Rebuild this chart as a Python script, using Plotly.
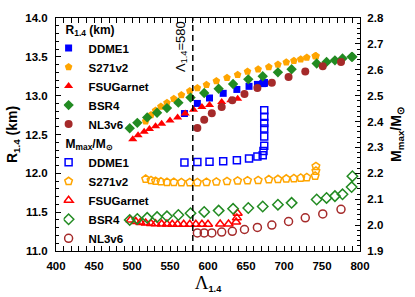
import plotly.graph_objects as go

# ---------------- data ----------------
LAMBDA_CUT = 580

lam_ddme1 = [569, 586, 602, 620, 638, 654, 665, 672, 673, 674, 674, 674, 674, 674, 674]
R_ddme1 = [12.77, 12.90, 12.97, 13.03, 13.08, 13.12, 13.145, 13.155, 13.16, 13.16, 13.165, 13.165, 13.17, 13.17, 13.17]
M_ddme1 = [2.242, 2.244, 2.245, 2.247, 2.251, 2.257, 2.265, 2.270, 2.286, 2.307, 2.342, 2.373, 2.394, 2.419, 2.444]

lam_s271 = [518, 525, 531, 538, 546, 555, 565, 576, 586, 598, 611, 625, 639, 652, 666, 680,
            692, 703, 713, 722, 730, 741, 742, 742]
R_s271 = [12.67, 12.75, 12.81, 12.86, 12.91, 12.96, 13.01, 13.06, 13.10, 13.14, 13.19, 13.23,
          13.27, 13.31, 13.34, 13.37, 13.40, 13.43, 13.45, 13.47, 13.49, 13.51, 13.51, 13.51]
M_s271 = [2.178, 2.173, 2.170, 2.168, 2.166, 2.166, 2.165, 2.165, 2.165, 2.166, 2.167, 2.169,
          2.171, 2.172, 2.173, 2.176, 2.177, 2.179, 2.180, 2.182, 2.184, 2.190, 2.209, 2.227]

lam_fsu_R = [501, 508, 516, 523, 531, 539, 550, 560, 570, 581, 592, 602, 618, 630, 639]
R_fsu = [12.44, 12.49, 12.535, 12.57, 12.605, 12.64, 12.68, 12.72, 12.77, 12.82, 12.855,
         12.88, 12.92, 12.94, 12.96]
lam_fsu_M = [498, 505, 511, 518, 525, 531, 539, 546, 553, 560, 568, 576, 584, 592, 600,
             616, 627, 637, 638, 639]
M_fsu = [2.020, 2.014, 2.010, 2.008, 2.006, 2.005, 2.004, 2.004, 2.003, 2.003, 2.003, 2.003,
         2.003, 2.003, 2.003, 2.004, 2.004, 2.012, 2.028, 2.046]

lam_bsr4 = [497, 507, 520, 533, 546, 561, 577, 595, 614, 633, 653, 672, 692, 710, 743, 756,
            767, 777, 789, 790]
R_bsr4 = [12.58, 12.65, 12.72, 12.78, 12.84, 12.91, 12.975, 13.035, 13.09, 13.15, 13.21, 13.25,
          13.30, 13.34, 13.415, 13.435, 13.455, 13.48, 13.50, 13.50]
M_bsr4 = [2.020, 2.024, 2.028, 2.031, 2.034, 2.039, 2.046, 2.051, 2.056, 2.063, 2.066, 2.072,
          2.079, 2.086, 2.099, 2.105, 2.112, 2.119, 2.147, 2.189]

lam_nl3 = [586, 595, 605, 618, 632, 648, 665, 684, 706, 728, 751, 775]
R_nl3 = [12.585, 12.69, 12.775, 12.855, 12.94, 13.02, 13.10, 13.165, 13.24, 13.31, 13.38, 13.435]
M_nl3 = [1.970, 1.970, 1.970, 1.973, 1.976, 1.983, 1.991, 2.000, 2.014, 2.028, 2.043, 2.061]

# ---------------- styles ----------------
FONT = "Liberation Sans, Arial, Helvetica, sans-serif"
series = [
    ("DDME1", lam_ddme1, R_ddme1, lam_ddme1, M_ddme1, "#0000ff", "square", 7),
    ("S271v2", lam_s271, R_s271, lam_s271, M_s271, "#ffa500", "pentagon", 8),
    ("FSUGarnet", lam_fsu_R, R_fsu, lam_fsu_M, M_fsu, "#ff0000", "triangle-up", 8),
    ("BSR4", lam_bsr4, R_bsr4, lam_bsr4, M_bsr4, "#228b22", "diamond", 8),
    ("NL3v6", lam_nl3, R_nl3, lam_nl3, M_nl3, "#a52a2a", "circle", 8),
]

fig = go.Figure()
for name, lx, ry, mx, my, col, sym, sz in series:
    fig.add_trace(go.Scatter(
        x=lx, y=ry, mode="markers", name=name, legend="legend",
        marker=dict(symbol=sym, size=sz, color=col, line=dict(width=0)),
    ))
for name, lx, ry, mx, my, col, sym, sz in series:
    fig.add_trace(go.Scatter(
        x=mx, y=my, mode="markers", name=name, legend="legend2", yaxis="y2",
        marker=dict(symbol=sym + "-open", size=sz, color=col, line=dict(width=1.5, color=col)),
    ))

fig.add_vline(x=LAMBDA_CUT, line=dict(color="black", width=1.5, dash="6px,4px"))
fig.add_annotation(
    x=LAMBDA_CUT, xref="x", y=0.995, yref="paper", xanchor="right", yanchor="top",
    xshift=-1, textangle=-90, showarrow=False,
    text="Λ<sub>1.4</sub>=580", font=dict(family=FONT, size=13, color="black"),
)

tickfont = dict(family=FONT, size=11.5, color="black", weight="bold")
axis_common = dict(showline=True, linecolor="black", linewidth=1, ticks="inside",
                   ticklen=5, tickwidth=1, tickcolor="black", showgrid=False,
                   zeroline=False, tickfont=tickfont)

legend_common = dict(xanchor="left", yanchor="top", bgcolor="rgba(0,0,0,0)",
                     font=dict(family=FONT, size=11.5, color="black", weight="bold"),
                     itemwidth=30, tracegroupgap=0, indentation=-15)

fig.update_layout(
    width=415, height=297,
    margin=dict(l=55, r=55, t=14, b=42),
    paper_bgcolor="white", plot_bgcolor="white",
    font=dict(family=FONT, size=11.5, color="black"),
    xaxis=dict(range=[400, 800], tick0=400, dtick=50, mirror="allticks", ticklabelstandoff=4,
               minor=dict(dtick=10, ticks="inside", ticklen=3, tickcolor="black"),
               title=dict(text='<span style="font-family:Liberation Serif,Times New Roman,serif;font-size:19px">Λ</span><sub><b>1.4</b></sub>',
                          font=dict(family=FONT, size=13), standoff=4),
               **axis_common),
    yaxis=dict(range=[11, 14], tick0=11, dtick=0.5, tickformat=".1f", ticklabelstandoff=5,
               minor=dict(dtick=0.1, ticks="inside", ticklen=3, tickcolor="black"),
               title=dict(text="<b>R<sub>1.4</sub> (km)</b>", font=dict(family=FONT, size=14), standoff=4),
               **axis_common),
    yaxis2=dict(range=[1.9, 2.8], tick0=1.9, dtick=0.1, tickformat=".1f", overlaying="y", side="right",
                ticklabelstandoff=4,
                minor=dict(dtick=0.02, ticks="inside", ticklen=3, tickcolor="black"),
                title=dict(text="<b>M<sub>max</sub>/M<sub>⊙</sub></b>", font=dict(family=FONT, size=14), standoff=8),
                **axis_common),
    legend=dict(x=0.025, y=1.0,
                title=dict(text="<b>R<sub>1.4</sub> (km)</b>", font=dict(family=FONT, size=12)),
                **legend_common),
    legend2=dict(x=0.025, y=0.51,
                 title=dict(text="<b>M<sub>max</sub>/M<sub>⊙</sub></b>", font=dict(family=FONT, size=12)),
                 **legend_common),
    showlegend=True,
)

fig.write_html("out.html", config={"displayModeBar": False},
               post_script="document.body.style.margin='0';")
